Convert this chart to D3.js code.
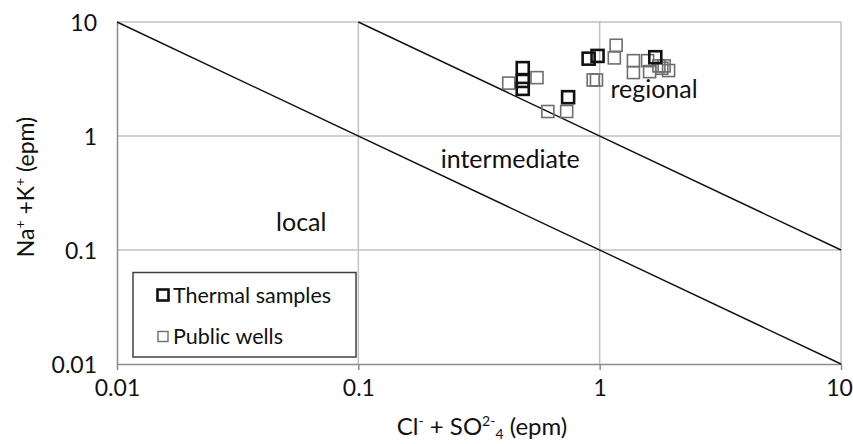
<!DOCTYPE html>
<html><head><meta charset="utf-8">
<script src="https://cdn.jsdelivr.net/npm/d3@7"></script>
<style>body{margin:0;background:#fff}svg{display:block}text{font-family:Lato,"Open Sans",sans-serif;fill:#111}</style>
</head><body><svg id="c" width="853" height="444"></svg>
<script>
const xTicks = [0.01, 0.1, 1, 10];
const yTicks = [0.01, 0.1, 1, 10];
const xTickLabels = ["0.01", "0.1", "1", "10"];
const yTickLabels = ["0.01", "0.1", "1", "10"];
const thermalX = [0.48, 0.48, 0.48, 0.74, 0.90, 0.98, 1.70];
const thermalY = [3.94, 3.04, 2.59, 2.19, 4.77, 5.04, 4.91];
const wellsX = [0.42, 0.55, 0.61, 0.73, 0.94, 0.97, 1.17, 1.15, 1.38, 1.38, 1.58, 1.61, 1.76, 1.81, 1.85, 1.93];
const wellsY = [2.91, 3.25, 1.64, 1.64, 3.10, 3.10, 6.25, 4.84, 4.58, 3.60, 4.58, 3.67, 4.12, 3.93, 4.12, 3.75];
const boundaryLines = [{name:"local", k:0.1}, {name:"regional", k:1}];
const zoneLabels = [{text:"regional", x:1.68, y:2.59}, {text:"intermediate", x:0.426, y:0.631}, {text:"local", x:0.058, y:0.174}];
const legendItems = ["Thermal samples", "Public wells"];

const svg = d3.select("#c");
const L = 117, R = 841, T = 22, B = 364;
const x = d3.scaleLog().domain([0.01, 10]).range([L, R]);
const y = d3.scaleLog().domain([0.01, 10]).range([B, T]);
const FS = 23;

// gridlines
const g = svg.append("g");
g.selectAll(".gx").data(xTicks.slice(1)).join("line")
  .attr("x1", d => x(d)).attr("x2", d => x(d)).attr("y1", T).attr("y2", B)
  .attr("stroke", "#c0c0c0").attr("stroke-width", 1.5);
g.selectAll(".gy").data(yTicks.slice(1)).join("line")
  .attr("y1", d => y(d)).attr("y2", d => y(d)).attr("x1", L).attr("x2", R)
  .attr("stroke", "#c0c0c0").attr("stroke-width", 1.5);

// axes
const xAxis = d3.axisBottom(x).tickValues(xTicks).tickFormat((d, i) => xTickLabels[i]).tickSize(6).tickSizeOuter(0);
const xa = svg.append("g").attr("transform", `translate(0,${B})`).call(xAxis);
xa.select(".domain").attr("stroke", "#8c8c8c").attr("stroke-width", 1.5);
xa.selectAll(".tick line").attr("stroke", "#8c8c8c").attr("stroke-width", 1.5);
xa.selectAll(".tick text").attr("font-size", FS).attr("dy", "0.35em").attr("y", 24)
  .attr("dx", (d, i) => i === xTicks.length - 1 ? -2 : 0)
  .attr("font-family", "Lato, sans-serif").attr("fill", "#111");

const yAxis = d3.axisLeft(y).tickValues(yTicks).tickFormat((d, i) => yTickLabels[i]).tickSize(0).tickSizeOuter(0).tickPadding(20);
const ya = svg.append("g").attr("transform", `translate(${L},0)`).call(yAxis);
ya.select(".domain").attr("stroke", "#8c8c8c").attr("stroke-width", 1.5);
ya.selectAll(".tick text").attr("font-size", FS).attr("dy", "0.35em")
  .attr("font-family", "Lato, sans-serif").attr("fill", "#111");

// boundary lines y = k / x
svg.selectAll(".bl").data(boundaryLines).join("line")
  .attr("x1", d => x(Math.max(0.01, d.k / 10))).attr("y1", d => y(d.k / Math.max(0.01, d.k / 10)))
  .attr("x2", d => x(10)).attr("y2", d => y(d.k / 10))
  .attr("stroke", "#111").attr("stroke-width", 1.4);

// zone labels
svg.selectAll(".zl").data(zoneLabels).join("text")
  .attr("x", d => x(d.x)).attr("y", d => y(d.y)).attr("text-anchor", "middle")
  .attr("dy", "0.35em").attr("font-size", 25).text(d => d.text);

// points
const s = 12;
svg.append("g").selectAll("rect").data(wellsX.map((v, i) => [v, wellsY[i]])).join("rect")
  .attr("x", d => x(d[0]) - s / 2).attr("y", d => y(d[1]) - s / 2).attr("width", s).attr("height", s)
  .attr("fill", "none").attr("stroke", "#6e6e6e").attr("stroke-width", 1.6);
svg.append("g").selectAll("rect").data(thermalX.map((v, i) => [v, thermalY[i]])).join("rect")
  .attr("x", d => x(d[0]) - s / 2).attr("y", d => y(d[1]) - s / 2).attr("width", s).attr("height", s)
  .attr("fill", "none").attr("stroke", "#111").attr("stroke-width", 2.6);

// legend
const lg = svg.append("g");
lg.append("rect").attr("x", 133).attr("y", 272.5).attr("width", 223).attr("height", 84.5)
  .attr("fill", "#fff").attr("stroke", "#404040").attr("stroke-width", 1.5);
lg.append("rect").attr("x", 157.5).attr("y", 289.5).attr("width", 11).attr("height", 11)
  .attr("fill", "none").attr("stroke", "#111").attr("stroke-width", 2.6);
lg.append("rect").attr("x", 158).attr("y", 331.5).attr("width", 10).attr("height", 10)
  .attr("fill", "none").attr("stroke", "#6e6e6e").attr("stroke-width", 1.4);
lg.selectAll("text").data(legendItems).join("text")
  .attr("x", 173).attr("y", (d, i) => 295 + i * 41.5).attr("dy", "0.35em")
  .attr("font-size", 21.5).text(d => d);

// axis titles
const xt = svg.append("text").attr("x", 482).attr("y", 435).attr("text-anchor", "middle")
  .attr("font-size", 24);
xt.append("tspan").text("Cl");
xt.append("tspan").attr("font-size", 14).attr("dy", -9).text("-");
xt.append("tspan").attr("dy", 9).text(" + SO");
xt.append("tspan").attr("font-size", 14).attr("dy", -9).text("2-");
xt.append("tspan").attr("font-size", 14).attr("dy", 13).text("4");
xt.append("tspan").attr("dy", -4).text(" (epm)");

const yt = svg.append("text").attr("transform", `translate(26,${(T + B) / 2 - 6}) rotate(-90)`)
  .attr("text-anchor", "middle").attr("dy", "0.35em").attr("font-size", FS);
yt.append("tspan").text("Na");
yt.append("tspan").attr("font-size", 14).attr("dy", -9).text("+");
yt.append("tspan").attr("dy", 9).text(" +K");
yt.append("tspan").attr("font-size", 14).attr("dy", -9).text("+");
yt.append("tspan").attr("dy", 9).text(" (epm)");
</script></body></html>
